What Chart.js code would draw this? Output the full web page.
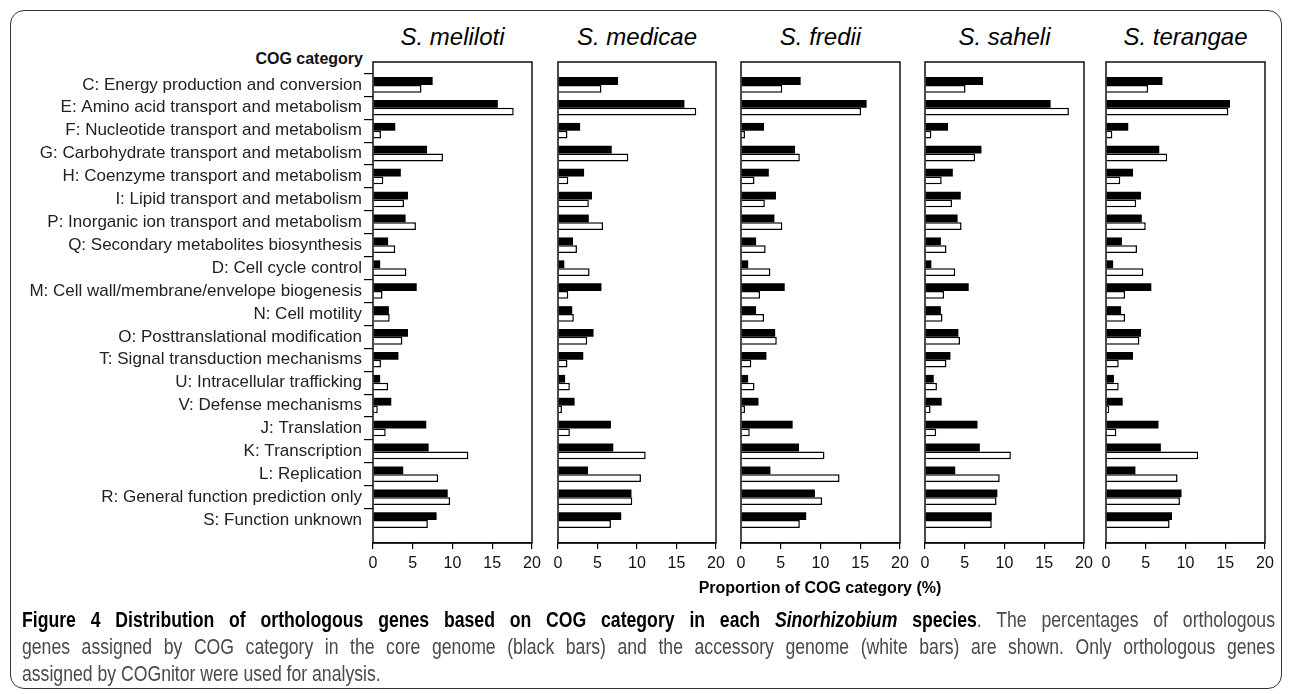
<!DOCTYPE html>
<html>
<head>
<meta charset="utf-8">
<script src="https://cdn.jsdelivr.net/npm/chart.js@4.4.1/dist/chart.umd.min.js"></script>
<style>
body { margin:0; background:#fff; width:1293px; height:694px; overflow:hidden; position:relative; font-family:'Liberation Sans', Arial, sans-serif; }
#box { position:absolute; left:10px; top:10px; width:1270px; height:677px; border:1.5px solid #333; border-radius:14px; }
canvas { position:absolute; top:0; }
.sp { position:absolute; top:23px; width:200px; text-align:center; font-style:italic; font-size:24px; line-height:28px; color:#000; }
#cog { position:absolute; right:930px; top:49px; font-weight:bold; font-size:16px; line-height:20px; color:#111; }
#xtitle { position:absolute; left:620px; width:400px; top:578px; text-align:center; font-weight:bold; font-size:16px; line-height:20px; color:#000; }
#caption { position:absolute; left:22px; width:1253px; top:607px; font-family:'Liberation Sans', Arial, sans-serif; font-size:21.5px; line-height:27px; color:#4a4a4a; }
#caption div { width:1528px; transform:scaleX(0.82); transform-origin:left top; height:27px; text-align:justify; text-align-last:justify; white-space:nowrap; }
#caption div.last { text-align-last:left; }
#caption b { color:#000; }
</style>
</head>
<body>
<div id="box"></div>
<div id="cog">COG category</div>
<div id="titles"></div>
<div id="charts"></div>
<div id="xtitle">Proportion of COG category (%)</div>
<div id="caption">
  <div><b>Figure 4 Distribution of orthologous genes based on COG category in each <i>Sinorhizobium</i> species</b>. The percentages of orthologous</div>
  <div>genes assigned by COG category in the core genome (black bars) and the accessory genome (white bars) are shown. Only orthologous genes</div>
  <div class="last">assigned by COGnitor were used for analysis.</div>
</div>
<script>
const cogCategories = [
  'C: Energy production and conversion',
  'E: Amino acid transport and metabolism',
  'F: Nucleotide transport and metabolism',
  'G: Carbohydrate transport and metabolism',
  'H: Coenzyme transport and metabolism',
  'I: Lipid transport and metabolism',
  'P: Inorganic ion transport and metabolism',
  'Q: Secondary metabolites biosynthesis',
  'D: Cell cycle control',
  'M: Cell wall/membrane/envelope biogenesis',
  'N: Cell motility',
  'O: Posttranslational modification',
  'T: Signal transduction mechanisms',
  'U: Intracellular trafficking',
  'V: Defense mechanisms',
  'J: Translation',
  'K: Transcription',
  'L: Replication',
  'R: General function prediction only',
  'S: Function unknown'
]
const speciesNames = ['S. meliloti', 'S. medicae', 'S. fredii', 'S. saheli', 'S. terangae']

// % of genes per COG category, core genome (black) and accessory genome (white)
const coreMeliloti  = [7.5, 15.7, 2.8, 6.8, 3.5, 4.4, 4.1, 1.9, 0.9, 5.5, 2.0, 4.4, 3.2, 0.9, 2.3, 6.7, 7.0, 3.8, 9.4, 8.0]
const accMeliloti   = [6.1, 17.7, 1.0, 8.8, 1.3, 3.9, 5.4, 2.8, 4.2, 1.2, 2.1, 3.7, 1.0, 1.9, 0.6, 1.6, 12.0, 8.2, 9.7, 6.9]
const coreMedicae   = [7.6, 16.0, 2.8, 6.8, 3.3, 4.3, 3.9, 1.9, 0.8, 5.5, 1.8, 4.5, 3.2, 0.9, 2.1, 6.7, 7.0, 3.8, 9.3, 8.0]
const accMedicae    = [5.5, 17.5, 1.2, 8.9, 1.3, 3.9, 5.7, 2.4, 4.0, 1.3, 2.0, 3.7, 1.2, 1.5, 0.5, 1.5, 11.1, 10.5, 9.4, 6.7]
const coreFredii    = [7.5, 15.8, 2.9, 6.8, 3.5, 4.4, 4.2, 1.9, 0.9, 5.5, 1.9, 4.3, 3.2, 0.9, 2.2, 6.5, 7.3, 3.7, 9.3, 8.2]
const accFredii     = [5.2, 15.1, 0.5, 7.4, 1.7, 3.0, 5.2, 3.1, 3.7, 2.4, 2.9, 4.5, 1.3, 1.7, 0.5, 1.1, 10.5, 12.4, 10.2, 7.4]
const coreSaheli    = [7.3, 15.8, 2.9, 7.1, 3.5, 4.5, 4.1, 2.0, 0.8, 5.5, 2.0, 4.2, 3.2, 1.1, 2.1, 6.6, 6.9, 3.8, 9.1, 8.4]
const accSaheli     = [5.1, 18.1, 0.8, 6.3, 2.1, 3.4, 4.6, 2.7, 3.8, 2.4, 2.2, 4.4, 2.7, 1.5, 0.7, 1.4, 10.8, 9.4, 9.0, 8.4]
const coreTerangae  = [7.1, 15.6, 2.8, 6.7, 3.4, 4.4, 4.5, 2.0, 0.9, 5.7, 1.9, 4.4, 3.4, 1.0, 2.1, 6.6, 6.9, 3.7, 9.5, 8.3]
const accTerangae   = [5.3, 15.4, 0.8, 7.7, 1.8, 3.8, 5.0, 3.9, 4.7, 2.4, 2.4, 4.2, 1.6, 1.6, 0.4, 1.3, 11.6, 9.0, 9.3, 8.0]

const xTickValues = [0, 5, 10, 15, 20]

const coreSeries = [coreMeliloti, coreMedicae, coreFredii, coreSaheli, coreTerangae]
const accSeries = [accMeliloti, accMedicae, accFredii, accSaheli, accTerangae]

// plot area edges in page pixels
const panelLeft = [373, 558, 741, 925, 1106]
const panelRight = [532, 716, 900, 1084, 1265]
const plotTop = 62
const plotBottom = 543
const canvasH = 610
const xAxisH = 40

// blank label at each end so the frame sticks out past C and S
const yLabels = [''].concat(cogCategories, [''])
function padded(arr) { return [null].concat(arr, [null]) }

const framePlugin = {
  id: 'frame',
  afterDatasetsDraw(chart) {
    const a = chart.chartArea, c = chart.ctx
    c.save()
    c.strokeStyle = '#111'
    c.lineWidth = 1.5
    c.strokeRect(a.left, a.top, a.right - a.left, a.bottom - a.top)
    c.restore()
  }
}

const titles = document.getElementById('titles')
const holder = document.getElementById('charts')

for (let i = 0; i < speciesNames.length; i++) {
  const first = i === 0
  const t = document.createElement('div')
  t.className = 'sp'
  t.textContent = speciesNames[i]
  t.style.left = ((panelLeft[i] + panelRight[i]) / 2 - 100) + 'px'
  titles.appendChild(t)

  const padL = first ? 0 : 14
  const left = first ? 0 : panelLeft[i] - padL
  const width = panelRight[i] - left + 14
  const canvas = document.createElement('canvas')
  canvas.width = width
  canvas.height = canvasH
  canvas.style.left = left + 'px'
  holder.appendChild(canvas)

  new Chart(canvas, {
    type: 'bar',
    data: {
      labels: yLabels,
      datasets: [{
        label: 'Core genome',
        data: padded(coreSeries[i]),
        backgroundColor: '#000',
        borderWidth: 0
      }, {
        label: 'Accessory genome',
        data: padded(accSeries[i]),
        backgroundColor: '#fff',
        borderColor: '#000',
        borderWidth: 1.5
      }]
    },
    options: {
      indexAxis: 'y',
      responsive: false,
      animation: false,
      categoryPercentage: 0.68,
      barPercentage: 1,
      layout: { padding: { top: plotTop, left: padL, right: 14, bottom: canvasH - plotBottom - xAxisH } },
      plugins: { legend: { display: false }, tooltip: { enabled: false } },
      scales: {
        x: {
          min: 0,
          max: 20,
          afterBuildTicks(s) { s.ticks = xTickValues.map(v => ({ value: v })) },
          ticks: { font: { size: 16, family: 'Liberation Sans' }, color: '#111', padding: 5, maxRotation: 0 },
          grid: { drawOnChartArea: false, tickLength: 6, color: '#000', lineWidth: 1.2 },
          border: { color: '#000', width: 1.5 },
          afterFit(s) { s.height = xAxisH; s.paddingLeft = 0; s.paddingRight = 0 }
        },
        y: {
          display: first,
          offset: false,
          ticks: { font: { size: 17, family: 'Liberation Sans' }, color: '#222', padding: 2, autoSkip: false },
          grid: {
            drawOnChartArea: false,
            tickLength: 9,
            lineWidth: 1.2,
            tickColor: ctx => (ctx.index === 0 || ctx.index === yLabels.length - 1) ? 'rgba(0,0,0,0)' : '#000'
          },
          border: { display: false },
          afterFit(s) {
            if (first) s.width = panelLeft[0]
            s.paddingTop = 0
            s.paddingBottom = 0
          }
        }
      }
    },
    plugins: [framePlugin]
  })
}
</script>
</body>
</html>
